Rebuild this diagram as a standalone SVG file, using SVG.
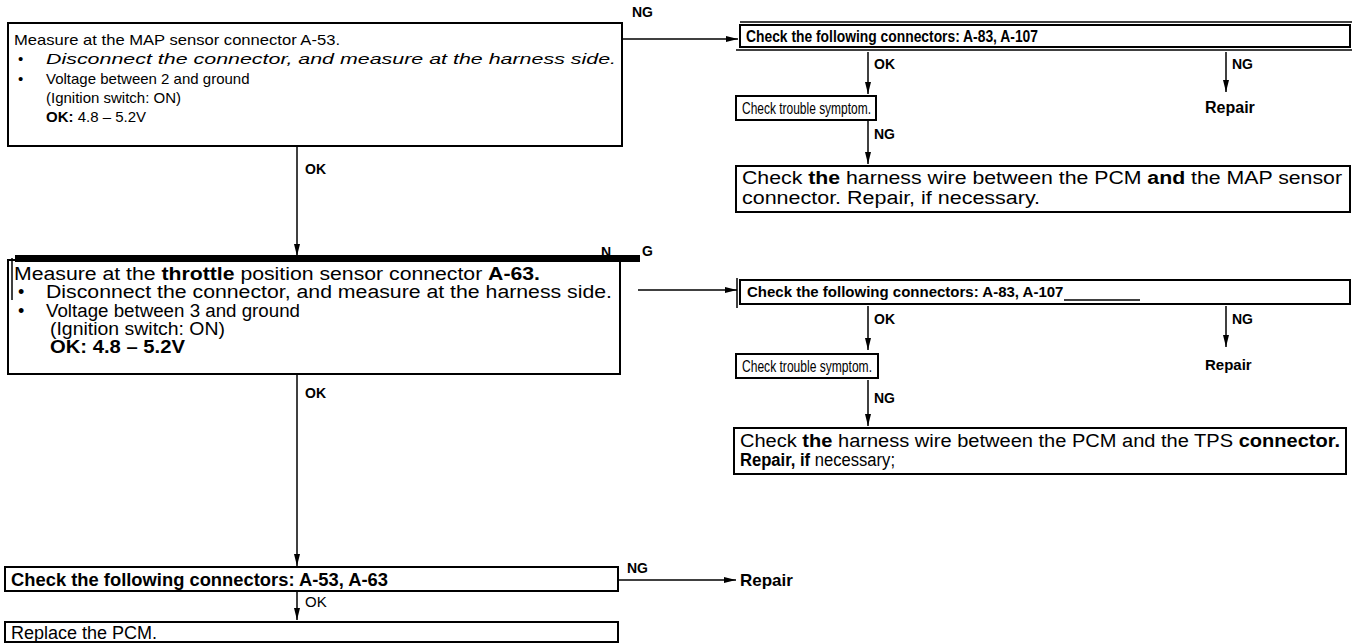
<svg xmlns="http://www.w3.org/2000/svg" width="1362" height="644" viewBox="0 0 1362 644">
<defs>
<marker id="ah" viewBox="0 0 12 10" refX="12" refY="5" markerWidth="12" markerHeight="10" markerUnits="userSpaceOnUse" orient="auto">
<path d="M0,2 L12,5 L0,8 Z" fill="#000"/>
</marker>
</defs>
<style>
text{font-family:"Liberation Sans",Arial,sans-serif;font-size:15px;fill:#000}
.b{font-weight:bold}
.i{font-style:italic}
.lbl{font-size:14px;font-weight:bold}
.big{font-size:18px}
.box{fill:#fff;stroke:#000;stroke-width:2}
.ln{stroke:#000;stroke-width:1.5;fill:none}
.arr{stroke:#000;stroke-width:1.5;fill:none;marker-end:url(#ah)}
</style>
<rect width="1362" height="644" fill="#fff"/>
<g id="connectors">
<line class="arr" x1="622" y1="39" x2="738" y2="39"/>
<line class="arr" x1="868" y1="52" x2="868" y2="94"/>
<line class="arr" x1="1226" y1="52" x2="1226" y2="92"/>
<line class="arr" x1="868" y1="121" x2="868" y2="164"/>
<line class="arr" x1="297" y1="147" x2="297" y2="256"/>
<line class="arr" x1="638" y1="290" x2="737" y2="290"/>
<line class="arr" x1="868" y1="306" x2="868" y2="350"/>
<line class="arr" x1="1226" y1="306" x2="1226" y2="347"/>
<line class="arr" x1="868" y1="380" x2="868" y2="426"/>
<line class="arr" x1="297" y1="375" x2="297" y2="566"/>
<line class="arr" x1="619" y1="580" x2="736" y2="580"/>
<line class="arr" x1="297" y1="592" x2="297" y2="620"/>
<text class="lbl" x="632" y="17">NG</text>
<text class="lbl" x="305" y="174">OK</text>
<text class="lbl" x="874" y="69">OK</text>
<text class="lbl" x="1232" y="69">NG</text>
<text class="lbl" x="874" y="139">NG</text>
<text class="lbl" x="601" y="257">N</text>
<text class="lbl" x="642" y="256">G</text>
<text class="lbl" x="874" y="324">OK</text>
<text class="lbl" x="1232" y="324">NG</text>
<text class="lbl" x="874" y="403">NG</text>
<text class="lbl" x="305" y="398">OK</text>
<text class="lbl" x="627" y="573">NG</text>
<text x="305" y="607">OK</text>
</g>
<g id="n1">
<rect class="box" x="8" y="23" width="614" height="123"/>
<text x="14" y="45" textLength="326" lengthAdjust="spacingAndGlyphs">Measure at the MAP sensor connector A-53.</text>
<text x="18" y="64">•</text><text class="i" x="46" y="64" textLength="570" lengthAdjust="spacingAndGlyphs">Disconnect the connector, and measure at the harness side.</text>
<text x="18" y="84">•</text><text x="46" y="84">Voltage between 2 and ground</text>
<text x="46" y="103">(Ignition switch: ON)</text>
<text x="46" y="122"><tspan class="b">OK:</tspan>  4.8 – 5.2V</text>
</g>
<g id="n2">
<line class="ln" x1="740" y1="22" x2="1352" y2="22"/>
<rect class="box" x="740" y="25" width="610" height="22"/>
<line class="ln" x1="736" y1="50" x2="1352" y2="50"/>
<text class="b" style="font-size:16px" x="746" y="42" textLength="292" lengthAdjust="spacingAndGlyphs">Check the following connectors: A-83, A-107</text>
</g>
<g id="n3">
<rect class="box" x="736" y="96" width="140" height="24"/>
<text style="font-size:16px" x="742" y="114" textLength="129" lengthAdjust="spacingAndGlyphs">Check trouble symptom.</text>
</g>
<g id="n4">
<text class="b" x="1205" y="113" style="font-size:16px">Repair</text>
</g>
<g id="n5">
<rect class="box" x="736" y="166" width="614" height="46"/>
<text style="font-size:18px" x="742" y="184" textLength="600" lengthAdjust="spacingAndGlyphs">Check <tspan class="b">the</tspan> harness wire between the PCM <tspan class="b">and</tspan> the MAP sensor</text>
<text style="font-size:18px" x="742" y="204" textLength="298" lengthAdjust="spacingAndGlyphs">connector. Repair, if necessary.</text>
</g>
<g id="n6">
<rect class="box" x="8" y="260" width="612" height="114"/>
<line class="ln" x1="12" y1="258" x2="12" y2="300"/>
<rect x="15" y="255" width="625" height="7" fill="#000"/>
<text style="font-size:18px" x="14" y="280" textLength="526" lengthAdjust="spacingAndGlyphs">Measure at the <tspan class="b">throttle</tspan> position sensor connector <tspan class="b">A-63.</tspan></text>
<text style="font-size:18px" x="18" y="298">•</text><text style="font-size:18px" x="46" y="298" textLength="566" lengthAdjust="spacingAndGlyphs">Disconnect the connector, and measure at the harness side.</text>
<text style="font-size:18px" x="18" y="317">•</text><text style="font-size:18px" x="46" y="317" textLength="254" lengthAdjust="spacingAndGlyphs">Voltage between 3 and ground</text>
<text style="font-size:18px" x="50" y="335" textLength="175" lengthAdjust="spacingAndGlyphs">(Ignition switch: ON)</text>
<text class="b" style="font-size:18px" x="50" y="353" textLength="135" lengthAdjust="spacingAndGlyphs">OK: 4.8 – 5.2V</text>
</g>
<g id="n7">
<rect class="box" x="740" y="280" width="610" height="24"/>
<line class="ln" x1="737" y1="278" x2="737" y2="308"/>
<text class="b" x="747" y="297">Check the following connectors: A-83, A-107</text>
<line class="ln" x1="1064" y1="300" x2="1140" y2="300"/>
</g>
<g id="n8">
<rect class="box" x="736" y="354" width="142" height="24"/>
<text style="font-size:16px" x="742" y="372" textLength="130" lengthAdjust="spacingAndGlyphs">Check trouble symptom.</text>
</g>
<g id="n9">
<text class="b" x="1205" y="370">Repair</text>
</g>
<g id="n10">
<rect class="box" x="734" y="428" width="612" height="46"/>
<text style="font-size:18px" x="740" y="447" textLength="600" lengthAdjust="spacingAndGlyphs">Check <tspan class="b">the</tspan> harness wire between the PCM and the TPS <tspan class="b">connector.</tspan></text>
<text style="font-size:18px" x="740" y="466" textLength="155" lengthAdjust="spacingAndGlyphs"><tspan class="b">Repair, if</tspan> necessary;</text>
</g>
<g id="n11">
<rect class="box" x="5" y="567" width="613" height="24"/>
<text class="b big" x="11" y="586" textLength="377" lengthAdjust="spacingAndGlyphs">Check the following connectors: A-53, A-63</text>
</g>
<g id="n12">
<text class="b" style="font-size:17px" x="740" y="586">Repair</text>
</g>
<g id="n13">
<rect class="box" x="5" y="622" width="613" height="20"/>
<text class="big" x="11" y="639">Replace the PCM.</text>
</g>
</svg>
